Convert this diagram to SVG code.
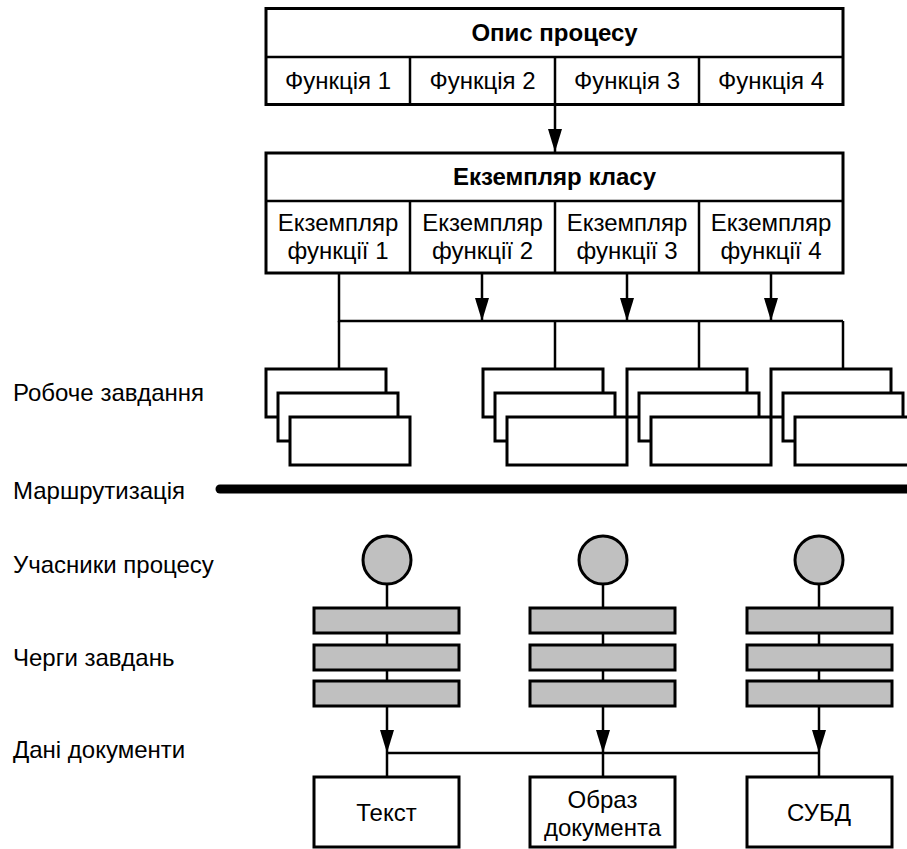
<svg xmlns="http://www.w3.org/2000/svg" width="907" height="849" viewBox="0 0 907 849">
<defs>
<style>
.box{fill:#fff;stroke:#000;stroke-width:3}
.grey{fill:#c0c0c0;stroke:#000;stroke-width:3}
.ln{fill:none;stroke:#000;stroke-width:2.5}
.t{font-family:"Liberation Sans",Arial,sans-serif;font-size:24px;fill:#000}
.c{text-anchor:middle}
.b{font-weight:bold}
</style>
<marker id="arr" viewBox="0 -8 24 16" refX="23" refY="0" markerWidth="24" markerHeight="16" markerUnits="userSpaceOnUse" orient="auto">
<path d="M0,-7 L23,0 L0,7 z" fill="#000"/>
</marker>
</defs>
<rect width="907" height="849" fill="#fff"/>

<g id="labels">
<text class="t" x="13" y="401">Робоче завдання</text>
<text class="t" x="13" y="499">Маршрутизація</text>
<text class="t" x="13" y="573">Учасники процесу</text>
<text class="t" x="13" y="666">Черги завдань</text>
<text class="t" x="13" y="758">Дані документи</text>
</g>

<g id="connectors">
<line class="ln" x1="555" y1="105" x2="555" y2="152" marker-end="url(#arr)"/>
<polyline class="ln" points="339,273 339,321 843,321"/>
<line class="ln" x1="482" y1="273" x2="482" y2="321" marker-end="url(#arr)"/>
<line class="ln" x1="627" y1="273" x2="627" y2="321" marker-end="url(#arr)"/>
<line class="ln" x1="771" y1="273" x2="771" y2="321" marker-end="url(#arr)"/>
<line class="ln" x1="339" y1="321" x2="339" y2="369"/>
<line class="ln" x1="555" y1="321" x2="555" y2="369"/>
<line class="ln" x1="699" y1="321" x2="699" y2="369"/>
<line class="ln" x1="843" y1="321" x2="843" y2="369"/>
<line x1="220" y1="489" x2="912" y2="489" stroke="#000" stroke-width="9" stroke-linecap="round"/>
<line class="ln" x1="387" y1="584" x2="387" y2="706"/>
<line class="ln" x1="603" y1="584" x2="603" y2="706"/>
<line class="ln" x1="819" y1="584" x2="819" y2="706"/>
<line class="ln" x1="387" y1="706" x2="387" y2="753" marker-end="url(#arr)"/>
<line class="ln" x1="603" y1="706" x2="603" y2="753" marker-end="url(#arr)"/>
<line class="ln" x1="819" y1="706" x2="819" y2="753" marker-end="url(#arr)"/>
<line class="ln" x1="387" y1="753" x2="819" y2="753"/>
<line class="ln" x1="387" y1="753" x2="387" y2="777"/>
<line class="ln" x1="603" y1="753" x2="603" y2="777"/>
<line class="ln" x1="819" y1="753" x2="819" y2="777"/>
</g>

<g id="process-description">
<rect class="box" x="266" y="8.5" width="577" height="96"/>
<line class="ln" x1="266" y1="57" x2="843" y2="57" stroke-width="3"/>
<line class="ln" x1="410" y1="57" x2="410" y2="104.5" stroke-width="3"/>
<line class="ln" x1="555" y1="57" x2="555" y2="104.5" stroke-width="3"/>
<line class="ln" x1="699" y1="57" x2="699" y2="104.5" stroke-width="3"/>
<text class="t c b" x="554.5" y="41">Опис процесу</text>
<text class="t c" x="338" y="89">Функція 1</text>
<text class="t c" x="482.5" y="89">Функція 2</text>
<text class="t c" x="627" y="89">Функція 3</text>
<text class="t c" x="771" y="89">Функція 4</text>
</g>

<g id="class-instance">
<rect class="box" x="266" y="153" width="577" height="120"/>
<line class="ln" x1="266" y1="201" x2="843" y2="201" stroke-width="3"/>
<line class="ln" x1="410" y1="201" x2="410" y2="273" stroke-width="3"/>
<line class="ln" x1="555" y1="201" x2="555" y2="273" stroke-width="3"/>
<line class="ln" x1="699" y1="201" x2="699" y2="273" stroke-width="3"/>
<text class="t c b" x="554.5" y="185">Екземпляр класу</text>
<text class="t c" x="338" y="231">Екземпляр</text>
<text class="t c" x="338" y="259">функції 1</text>
<text class="t c" x="482.5" y="231">Екземпляр</text>
<text class="t c" x="482.5" y="259">функції 2</text>
<text class="t c" x="627" y="231">Екземпляр</text>
<text class="t c" x="627" y="259">функції 3</text>
<text class="t c" x="771" y="231">Екземпляр</text>
<text class="t c" x="771" y="259">функції 4</text>
</g>

<g id="tasks-1">
<rect class="box" x="266" y="369" width="120" height="48"/>
<rect class="box" x="278" y="393" width="120" height="48"/>
<rect class="box" x="290" y="417" width="120" height="48"/>
</g>
<g id="tasks-2">
<rect class="box" x="483" y="369" width="120" height="48"/>
<rect class="box" x="495" y="393" width="120" height="48"/>
<rect class="box" x="507" y="417" width="120" height="48"/>
</g>
<g id="tasks-3">
<rect class="box" x="627" y="369" width="120" height="48"/>
<rect class="box" x="639" y="393" width="120" height="48"/>
<rect class="box" x="651" y="417" width="120" height="48"/>
</g>
<g id="tasks-4">
<rect class="box" x="771" y="369" width="120" height="48"/>
<rect class="box" x="783" y="393" width="120" height="48"/>
<rect class="box" x="795" y="417" width="120" height="48"/>
</g>

<g id="participant-1"><circle class="grey" cx="387" cy="560" r="24"/></g>
<g id="participant-2"><circle class="grey" cx="603" cy="560" r="24"/></g>
<g id="participant-3"><circle class="grey" cx="819" cy="560" r="24"/></g>

<g id="queue-1">
<rect class="grey" x="314" y="608" width="145" height="25"/>
<rect class="grey" x="314" y="645" width="145" height="25"/>
<rect class="grey" x="314" y="681" width="145" height="25"/>
</g>
<g id="queue-2">
<rect class="grey" x="530" y="608" width="145" height="25"/>
<rect class="grey" x="530" y="645" width="145" height="25"/>
<rect class="grey" x="530" y="681" width="145" height="25"/>
</g>
<g id="queue-3">
<rect class="grey" x="747" y="608" width="145" height="25"/>
<rect class="grey" x="747" y="645" width="145" height="25"/>
<rect class="grey" x="747" y="681" width="145" height="25"/>
</g>

<g id="doc-text">
<rect class="box" x="314" y="777" width="145" height="70"/>
<text class="t c" x="386.5" y="821">Текст</text>
</g>
<g id="doc-image">
<rect class="box" x="530" y="777" width="145" height="70"/>
<text class="t c" x="602.5" y="808">Образ</text>
<text class="t c" x="602.5" y="836">документа</text>
</g>
<g id="doc-dbms">
<rect class="box" x="747" y="777" width="145" height="70"/>
<text class="t c" x="819" y="821">СУБД</text>
</g>
</svg>
